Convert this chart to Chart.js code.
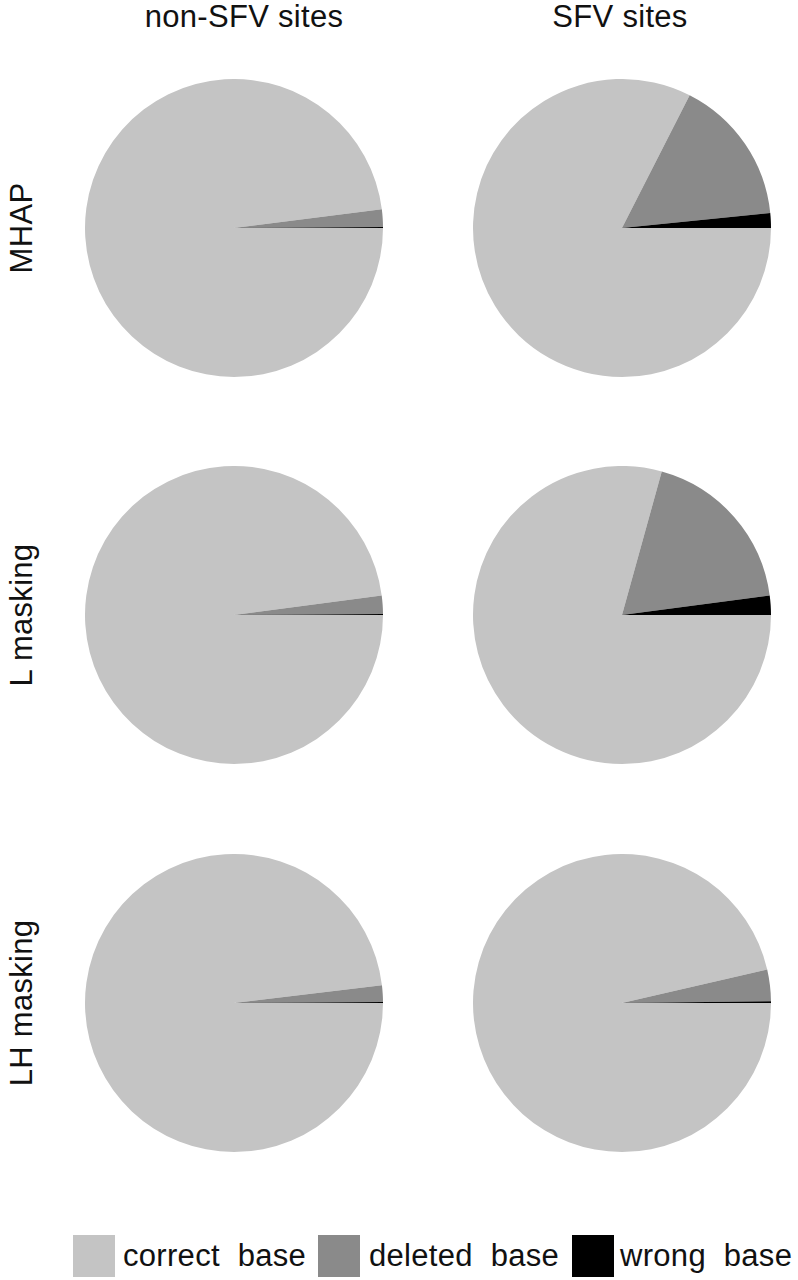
<!DOCTYPE html>
<html>
<head>
<meta charset="utf-8">
<script src="https://cdn.jsdelivr.net/npm/chart.js@4.4.1/dist/chart.umd.min.js"></script>
<style>
  body { margin: 0; background: #fff; width: 798px; height: 1280px; position: relative; overflow: hidden;
         font-family: "Liberation Sans", Arial, sans-serif; color: #111; }
  .lbl { position: absolute; font-size: 31px; letter-spacing: 0.3px; line-height: 36px; height: 36px; white-space: pre; text-align: center; }
  .rot { transform: rotate(-90deg); width: 300px; }
  .pie { position: absolute; }
  .box { position: absolute; width: 42px; height: 42px; }
</style>
</head>
<body>
<script>
// data
const categories = ['correct base', 'deleted base', 'wrong base'];
const colors = ['#c4c4c4', '#8a8a8a', '#000000'];
const columns = ['non-SFV sites', 'SFV sites'];
const rows = ['MHAP', 'L masking', 'LH masking'];

// percentages, one array per panel
const mhapNonSfv = [98.0, 1.9, 0.1];
const mhapSfv = [82.5, 15.9, 1.6];
const lNonSfv = [97.9, 2.0, 0.1];
const lSfv = [79.3, 18.6, 2.1];
const lhNonSfv = [98.1, 1.8, 0.1];
const lhSfv = [96.4, 3.4, 0.2];

const panels = [
    [mhapNonSfv, mhapSfv],
    [lNonSfv, lSfv],
    [lhNonSfv, lhSfv]
];

const colX = [234, 622];
const rowY = [228, 615, 1003];
const R = 149;

function addText(txt, left, top, width, cls) {
    const d = document.createElement('div');
    d.className = 'lbl' + (cls ? ' ' + cls : '');
    d.textContent = txt;
    d.style.left = left + 'px';
    d.style.top = top + 'px';
    if (width) d.style.width = width + 'px';
    document.body.appendChild(d);
    return d;
}

// column headers
addText(columns[0], 244 - 150, -1, 300);
addText(columns[1], 620 - 150, -1, 300);

// row labels (rotated)
rows.forEach((r, i) => {
    addText(r, 22 - 150, rowY[i] - 18, 300, 'rot');
});

// pies
panels.forEach((row, ri) => {
    row.forEach((vals, ci) => {
        const c = document.createElement('canvas');
        c.className = 'pie';
        c.width = 2 * R;
        c.height = 2 * R;
        c.style.left = (colX[ci] - R) + 'px';
        c.style.top = (rowY[ri] - R) + 'px';
        c.style.width = 2 * R + 'px';
        c.style.height = 2 * R + 'px';
        document.body.appendChild(c);
        new Chart(c.getContext('2d'), {
            type: 'pie',
            data: {
                labels: categories,
                datasets: [{
                    data: vals,
                    backgroundColor: colors,
                    borderWidth: 0
                }]
            },
            options: {
                responsive: false,
                animation: false,
                rotation: 90,
                layout: { padding: 0 },
                plugins: {
                    legend: { display: false },
                    tooltip: { enabled: false }
                }
            }
        });
    });
});

// legend
const boxX = [73, 318, 572];
const textX = [123, 369, 620];
const legendText = ['correct  base', 'deleted  base', 'wrong  base'];
categories.forEach((cat, i) => {
    const b = document.createElement('div');
    b.className = 'box';
    b.style.left = boxX[i] + 'px';
    b.style.top = '1235px';
    b.style.background = colors[i];
    document.body.appendChild(b);
    const t = addText(legendText[i], textX[i], 1238);
    t.style.textAlign = 'left';
});
</script>
</body>
</html>
